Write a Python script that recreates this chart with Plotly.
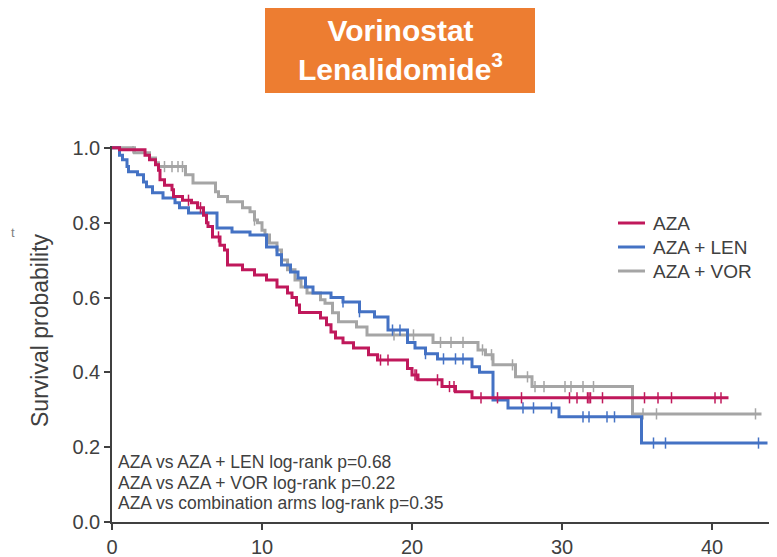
import numpy as np
import plotly.graph_objects as go

# ---- data ----
aza_time = [0, 0.5, 2.2, 2.5, 2.9, 3.1, 3.2, 3.5, 4.0, 4.1, 4.7, 5.3, 5.7, 6.1, 6.3, 6.4, 6.7, 7.2, 7.5, 7.7,
            8.7, 9.5, 10.3, 11.0, 11.7, 12.0, 12.3, 12.5, 13.9, 14.3, 14.6, 14.9, 15.4, 16.1, 17.1, 17.7,
            19.7, 20.0, 20.4, 22.0, 22.9, 24.0]
aza_surv = [1.0, 0.995, 0.98, 0.968, 0.955, 0.94, 0.915, 0.90, 0.888, 0.87, 0.86, 0.853, 0.84, 0.82, 0.80, 0.79,
            0.762, 0.74, 0.727, 0.687, 0.674, 0.66, 0.647, 0.628, 0.612, 0.60, 0.58, 0.56, 0.545, 0.527, 0.508,
            0.492, 0.479, 0.465, 0.447, 0.433, 0.41, 0.393, 0.38, 0.362, 0.348, 0.332]
aza_end = 41.1
aza_cens = [5.1, 5.9, 7.1, 17.9, 18.4, 20.2, 20.3, 21.7, 22.5, 22.8, 24.6, 25.7, 27.3, 30.5, 31.0, 31.7,
            31.8, 31.9, 32.7, 35.5, 36.4, 37.3, 40.2, 40.6]

len_time = [0, 0.5, 0.7, 1.0, 1.1, 1.7, 2.1, 2.3, 2.7, 3.4, 4.2, 4.5, 5.1, 7.0, 8.0, 9.2, 10.3, 11.0, 11.3,
            11.9, 12.4, 12.9, 13.4, 14.6, 15.4, 16.5, 17.5, 18.4, 19.7, 20.2, 20.9, 21.7, 24.0, 24.5, 25.4,
            26.4, 29.8, 35.3]
len_surv = [1.0, 0.98, 0.968, 0.95, 0.936, 0.928, 0.909, 0.896, 0.88, 0.866, 0.853, 0.84, 0.826, 0.786, 0.775,
            0.767, 0.735, 0.714, 0.687, 0.668, 0.652, 0.628, 0.612, 0.60, 0.588, 0.562, 0.548, 0.513, 0.48,
            0.465, 0.45, 0.436, 0.415, 0.40, 0.326, 0.305, 0.281, 0.211]
len_end = 43.7
len_cens = [15.4, 16.5, 18.7, 19.2, 20.9, 22.1, 22.9, 23.4, 27.4, 28.1, 29.3, 31.4, 31.8, 33.0, 33.5,
            36.1, 36.9, 43.1]

vor_time = [0, 1.5, 2.5, 2.9, 3.1, 4.9, 5.4, 6.9, 7.1, 7.7, 8.7, 9.2, 9.5, 9.7, 10.0, 10.2, 10.5, 11.0,
            11.3, 11.7, 12.2, 12.6, 13.0, 13.9, 14.2, 14.7, 15.1, 16.3, 17.0, 21.4, 24.4, 24.9, 25.4, 26.9,
            28.0, 34.7]
vor_surv = [1.0, 0.987, 0.973, 0.96, 0.95, 0.928, 0.906, 0.883, 0.87, 0.856, 0.84, 0.829, 0.807, 0.80, 0.78,
            0.767, 0.746, 0.727, 0.70, 0.674, 0.647, 0.628, 0.612, 0.594, 0.585, 0.559, 0.535, 0.521, 0.50,
            0.48, 0.46, 0.447, 0.42, 0.388, 0.362, 0.289]
vor_end = 43.3
vor_cens = [1.4, 3.5, 4.0, 4.4, 4.7, 9.5, 18.8, 20.1, 21.9, 22.6, 23.4, 24.7, 25.3, 26.7, 27.7, 28.2,
            28.8, 30.2, 30.6, 31.4, 32.1, 35.4, 36.3, 42.9]

series_names = ["AZA", "AZA + LEN", "AZA + VOR"]
series_colors = ["#C0185B", "#4472C4", "#A5A5A5"]
series = [
    (series_names[0], aza_time, aza_surv, aza_end, aza_cens, series_colors[0]),
    (series_names[1], len_time, len_surv, len_end, len_cens, series_colors[1]),
    (series_names[2], vor_time, vor_surv, vor_end, vor_cens, series_colors[2]),
]

x_ticks = [0, 10, 20, 30, 40]
y_ticks = [0.0, 0.2, 0.4, 0.6, 0.8, 1.0]
pvals = ["AZA vs AZA + LEN log-rank p=0.68",
         "AZA vs AZA + VOR log-rank p=0.22",
         "AZA vs combination arms log-rank p=0.35"]

FONT = "Liberation Sans, Arial, sans-serif"
TXT = "#404040"
fig = go.Figure()

# draw order: gray at back, then blue, then crimson on top
for name, t, s, end, cens, col in [series[2], series[1], series[0]]:
    tt = list(t) + [end]
    ss = list(s) + [s[-1]]
    fig.add_trace(go.Scatter(x=tt, y=ss, mode="lines", line=dict(color=col, width=3, shape="hv"),
                             name=name, showlegend=False, hoverinfo="skip"))
    idx = np.searchsorted(np.array(t), np.array(cens), side="right") - 1
    cy = np.array(s)[idx]
    fig.add_trace(go.Scatter(x=cens, y=cy, mode="markers", showlegend=False, hoverinfo="skip",
                             marker=dict(symbol="line-ns", size=8, line=dict(color=col, width=1.5))))

# page offset of the figure (browser body margin)
OFF = 8
W, H = 777 - OFF, 557 - OFF
# plot area in page pixels: x 112..772, y 146..522
L = 112 - OFF
R = W - (772 - OFF)
T = 146 - OFF
B = H - (522 - OFF)
pw, ph = W - L - R, H - T - B


def px(xp):
    """page pixel x -> paper x"""
    return (xp - OFF - L) / pw


def py(yp):
    """page pixel y -> paper y"""
    return (H - B - (yp - OFF)) / ph


fig.update_layout(
    width=W, height=H,
    margin=dict(l=L, r=R, t=T, b=B, autoexpand=False),
    paper_bgcolor="white", plot_bgcolor="white",
    font=dict(family=FONT, color=TXT),
    showlegend=False,
    xaxis=dict(range=[0, 44], tickvals=x_ticks, ticktext=[str(v) for v in x_ticks],
               showgrid=False, zeroline=False, showline=True, linecolor=TXT, linewidth=1.5,
               ticks="outside", ticklen=6, tickcolor=TXT, tickwidth=1.5,
               tickfont=dict(size=20, color=TXT, family=FONT)),
    yaxis=dict(range=[0, 1.005], tickvals=y_ticks, ticktext=[f"{v:.1f}" for v in y_ticks],
               showgrid=False, zeroline=False, showline=True, linecolor=TXT, linewidth=1.5,
               ticks="outside", ticklen=6, tickcolor=TXT, tickwidth=1.5,
               tickfont=dict(size=20, color=TXT, family=FONT)),
)

# legend (drawn as line samples + labels)
for i, (nm, col) in enumerate(zip(series_names, series_colors)):
    yy = py(223 + 24 * i)
    fig.add_shape(type="line", xref="paper", yref="paper", x0=px(618), x1=px(645), y0=yy, y1=yy,
                  line=dict(color=col, width=3))
    fig.add_annotation(xref="paper", yref="paper", x=px(651), y=yy, text=nm, showarrow=False,
                       font=dict(size=19, color=TXT, family=FONT), xanchor="left", yanchor="middle")

# title box
fig.add_shape(type="rect", xref="paper", yref="paper",
              x0=px(265), x1=px(535), y0=py(93), y1=py(6),
              fillcolor="#ED7D31", line=dict(width=0), layer="above")
fig.add_annotation(xref="paper", yref="paper", x=px(400), y=py(50),
                   text="<b>Vorinostat<br>Lenalidomide<sup>3</sup></b>", showarrow=False,
                   font=dict(size=30, color="white", family=FONT), xanchor="center", yanchor="middle")

# y axis title
fig.add_annotation(xref="paper", yref="paper", x=px(40), y=py(330),
                   text="Survival probability", textangle=-90, showarrow=False,
                   font=dict(size=23, color=TXT, family=FONT), xanchor="center", yanchor="middle")

# stray fragment of slide text at the left edge
fig.add_annotation(xref="paper", yref="paper", x=px(9), y=py(232),
                   text="t", showarrow=False, font=dict(size=13, color="#808080", family=FONT),
                   xanchor="left", yanchor="middle")

# p-value lines
for txt, yp in zip(pvals, [462, 483, 503]):
    fig.add_annotation(xref="paper", yref="paper", x=px(116), y=py(yp),
                       text=txt, showarrow=False, font=dict(size=17.5, color=TXT, family=FONT),
                       xanchor="left", yanchor="middle")

fig.write_html("out.html")
